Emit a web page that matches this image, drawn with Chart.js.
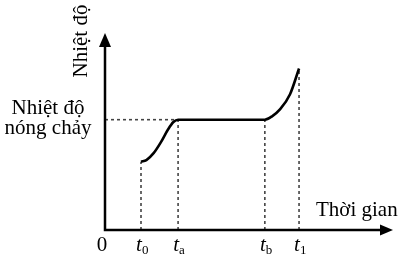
<!DOCTYPE html>
<html>
<head>
<meta charset="utf-8">
<script src="https://cdn.jsdelivr.net/npm/chart.js@4"></script>
<style>
  html, body { margin: 0; padding: 0; background: #fff; }
  #wrap { width: 403px; height: 261px; }
</style>
</head>
<body>
<div id="wrap"><canvas id="heatChart" width="403" height="261"></canvas></div>
<script>
// heating curve (time in arbitrary units, temperature 0..10)
const timeValues = [1.0, 1.15, 1.35, 1.55, 1.75, 1.9, 2.03, 4.44, 4.64, 4.86, 5.14, 5.39];
const tempValues = [3.47, 3.55, 3.9, 4.45, 5.1, 5.48, 5.6, 5.6, 5.77, 6.12, 6.89, 8.2];

// tick marks on the time axis
const tickValues = [0, 1.0, 2.03, 4.44, 5.39];
const tickMain = ['0', 't', 't', 't', 't'];
const tickSub = ['', '0', 'a', 'b', '1'];
// height of the curve above each marked time (for the dotted guide lines)
const guideTops = [0, 3.47, 5.6, 5.6, 8.2];
const meltTemp = 5.6;

const serif = '"Liberation Serif", "DejaVu Serif", serif';

const curve = timeValues.map((t, i) => ({x: t, y: tempValues[i]}));

const guideSets = [];
for (let i = 1; i < tickValues.length; i++) {
  guideSets.push({
    data: [{x: tickValues[i], y: 0}, {x: tickValues[i], y: guideTops[i]}],
    borderColor: '#444', borderWidth: 1.6, borderDash: [3, 3],
    pointRadius: 0, showLine: true
  });
}
// dotted line for melting temperature
guideSets.push({
  data: [{x: 0, y: meltTemp}, {x: tickValues[2], y: meltTemp}],
  borderColor: '#444', borderWidth: 1.6, borderDash: [3, 3],
  pointRadius: 0, showLine: true
});

// axes with arrows and the text labels
const axesPlugin = {
  id: 'axesPlugin',
  afterDraw(chart) {
    const c = chart.ctx;
    const a = chart.chartArea;
    const xs = chart.scales.x;
    c.save();
    c.strokeStyle = '#000';
    c.fillStyle = '#000';
    c.lineWidth = 2.5;
    c.beginPath();
    c.moveTo(a.left, a.top + 10);
    c.lineTo(a.left, a.bottom);
    c.lineTo(a.right - 10, a.bottom);
    c.stroke();
    // y arrow
    c.beginPath();
    c.moveTo(a.left, a.top);
    c.lineTo(a.left - 6, a.top + 14);
    c.lineTo(a.left + 6, a.top + 14);
    c.closePath();
    c.fill();
    // x arrow
    c.beginPath();
    c.moveTo(a.right, a.bottom);
    c.lineTo(a.right - 13, a.bottom - 5.5);
    c.lineTo(a.right - 13, a.bottom + 5.5);
    c.closePath();
    c.fill();

    // tick labels
    c.textBaseline = 'alphabetic';
    tickValues.forEach((v, i) => {
      const px = xs.getPixelForValue(v);
      if (tickSub[i] === '') {
        c.font = '21px ' + serif;
        c.textAlign = 'center';
        c.fillText(tickMain[i], px - 3, a.bottom + 21);
      } else {
        c.font = 'italic 21px ' + serif;
        c.textAlign = 'left';
        const w = c.measureText(tickMain[i]).width;
        c.fillText(tickMain[i], px - w / 2 - 2, a.bottom + 21);
        c.font = '13px ' + serif;
        c.fillText(tickSub[i], px + w / 2 - 2, a.bottom + 24);
      }
    });

    // axis titles
    c.font = '21px ' + serif;
    c.textAlign = 'left';
    c.fillText('Thời gian', 316, 216);

    c.textAlign = 'center';
    c.fillText('Nhiệt độ', 48, 114);
    c.fillText('nóng chảy', 48, 134);

    c.save();
    c.translate(87, 41);
    c.rotate(-Math.PI / 2);
    c.textAlign = 'center';
    c.fillText('Nhiệt độ', 0, 0);
    c.restore();
    c.restore();
  }
};

new Chart(document.getElementById('heatChart').getContext('2d'), {
  type: 'scatter',
  data: {
    datasets: [{
      data: curve,
      borderColor: '#000',
      borderWidth: 2.6,
      pointRadius: 0,
      showLine: true,
      cubicInterpolationMode: 'monotone'
    }].concat(guideSets)
  },
  options: {
    responsive: false,
    animation: false,
    layout: { padding: { left: 105, right: 10, top: 33, bottom: 31 } },
    scales: {
      x: { type: 'linear', min: 0, max: 8, display: false },
      y: { type: 'linear', min: 0, max: 10, display: false }
    },
    plugins: { legend: { display: false }, tooltip: { enabled: false } }
  },
  plugins: [axesPlugin]
});
</script>
</body>
</html>
